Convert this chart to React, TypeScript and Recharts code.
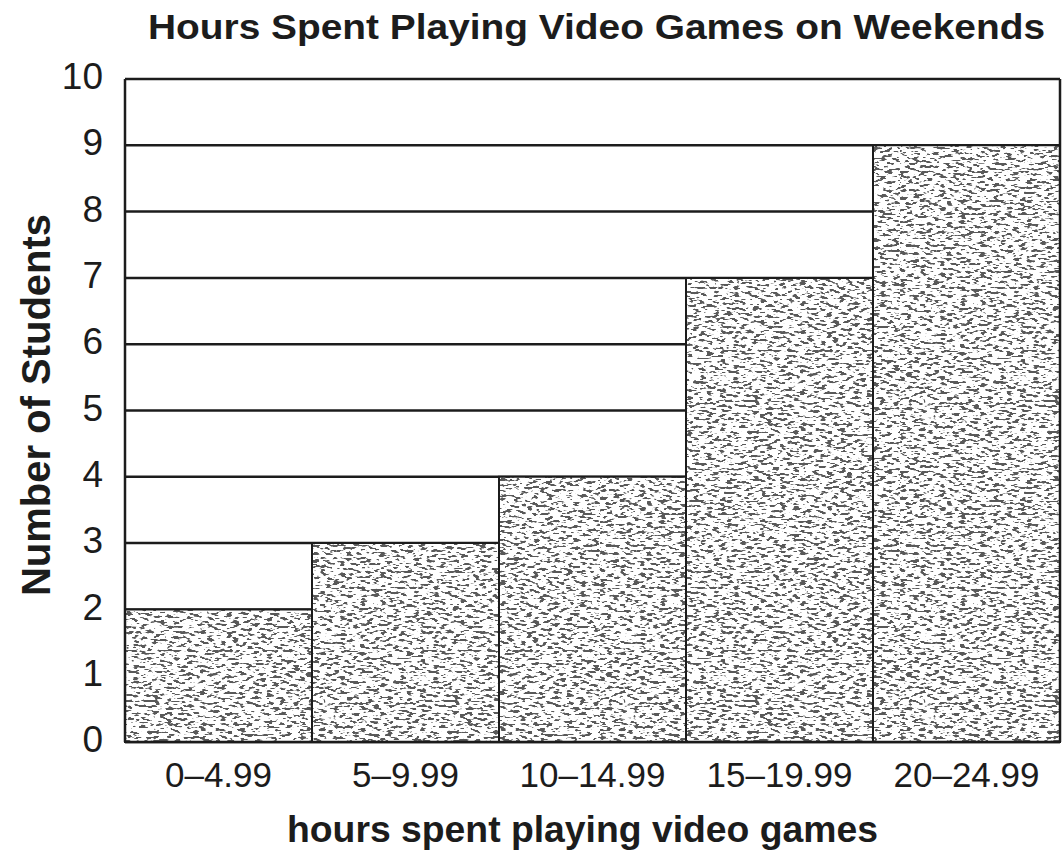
import { BarChart, Bar, XAxis, YAxis, CartesianGrid } from "recharts";

const bins = ["0–4.99", "5–9.99", "10–14.99", "15–19.99", "20–24.99"];
const students = [2, 3, 4, 7, 9];
const yTicks = [0, 1, 2, 3, 4, 5, 6, 7, 8, 9, 10];

const title = "Hours Spent Playing Video Games on Weekends";
const xTitle = "hours spent playing video games";
const yTitle = "Number of Students";

const data = bins.map((bin, i) => ({ bin, students: students[i] }));

const ink = "#1c1c1c";
const font = "'Liberation Sans', Arial, Helvetica, sans-serif";

export default function App() {
  return (
    <div style={{ position: "absolute", left: 0, top: 0, width: 1062, height: 867, background: "#fff" }}>
      <BarChart
        width={1062}
        height={867}
        data={data}
        barCategoryGap={0}
        margin={{ top: 79, right: 0, bottom: 65, left: 0 }}
      >
        <defs>
          <filter id="stipple" x="0" y="0" width="100%" height="100%">
            <feTurbulence type="fractalNoise" baseFrequency="0.15 0.38" numOctaves={2} seed={7} />
            <feColorMatrix
              type="matrix"
              values="0 0 0 0 0.1  0 0 0 0 0.1  0 0 0 0 0.1  -16 0 0 0 7.3"
            />
          </filter>
          <pattern id="grain" patternUnits="userSpaceOnUse" width={300} height={300}>
            <rect width={300} height={300} fill="#fff" />
            <rect width={300} height={300} filter="url(#stipple)" />
          </pattern>
        </defs>
        <CartesianGrid vertical={false} stroke={ink} strokeWidth={2.5} />
        <XAxis
          dataKey="bin"
          height={60}
          tickLine={false}
          tickSize={0}
          tickMargin={20}
          axisLine={{ stroke: ink, strokeWidth: 2.5 }}
          tick={{ fill: ink, fontSize: 35, fontFamily: font }}
          interval={0}
        />
        <YAxis
          width={125}
          domain={[0, 10]}
          ticks={yTicks}
          interval={0}
          tickLine={false}
          tickSize={0}
          tickMargin={22}
          axisLine={{ stroke: ink, strokeWidth: 2.5 }}
          tick={{ fill: ink, fontSize: 37, fontFamily: font, dy: -3 }}
        />
        <YAxis
          yAxisId="frame"
          orientation="right"
          width={2}
          domain={[0, 10]}
          tick={false}
          tickLine={false}
          axisLine={{ stroke: ink, strokeWidth: 2.5 }}
        />
        <Bar
          dataKey="students"
          fill="url(#grain)"
          stroke={ink}
          strokeWidth={2}
          isAnimationActive={false}
        />
      </BarChart>
      <svg
        width={1062}
        height={867}
        style={{ position: "absolute", left: 0, top: 0, pointerEvents: "none" }}
      >
        <text
          x={148}
          y={39}
          textLength={897}
          lengthAdjust="spacingAndGlyphs"
          fontFamily={font}
          fontWeight="bold"
          fontSize={35}
          fill={ink}
        >
          {title}
        </text>
        <text
          x={287}
          y={842}
          textLength={591}
          lengthAdjust="spacingAndGlyphs"
          fontFamily={font}
          fontWeight="bold"
          fontSize={37}
          fill={ink}
        >
          {xTitle}
        </text>
        <text
          transform="translate(50, 405) rotate(-90)"
          textAnchor="middle"
          fontFamily={font}
          fontWeight="bold"
          fontSize={40}
          fill={ink}
        >
          {yTitle}
        </text>
      </svg>
    </div>
  );
}
